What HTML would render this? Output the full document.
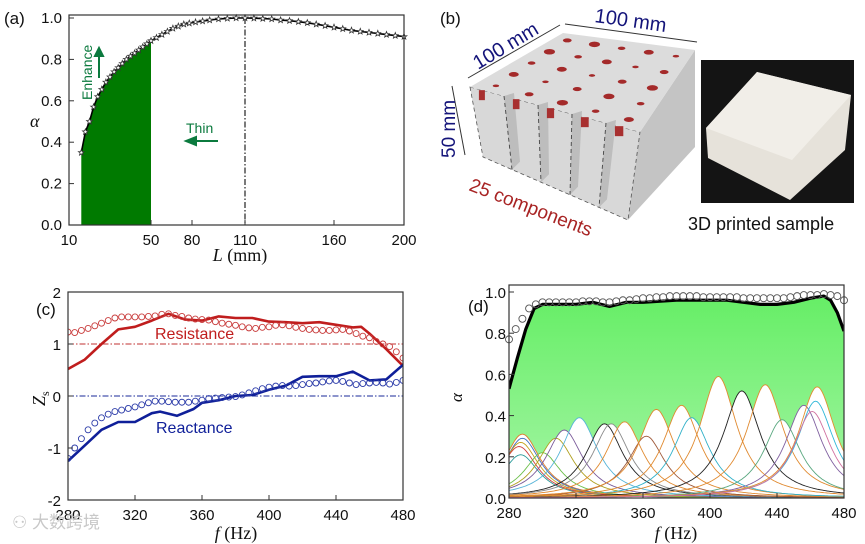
<!DOCTYPE html>
<html><head><meta charset="utf-8"><style>
html,body{margin:0;padding:0;background:#fff;}
svg{display:block;}
text{font-family:"Liberation Sans","Noto Sans CJK SC",sans-serif;}
.ser{font-family:"Liberation Serif",serif;}
</style></head><body>
<svg id="fig" width="865" height="544" viewBox="0 0 865 544" xmlns="http://www.w3.org/2000/svg">
<defs>
<linearGradient id="gG" x1="0" y1="0" x2="0" y2="1"><stop offset="0" stop-color="#66ee66"/><stop offset="1" stop-color="#a6f5a6"/></linearGradient>
<clipPath id="clipD"><rect x="509" y="285" width="335" height="214"/></clipPath>
<clipPath id="clipC"><rect x="68" y="292" width="335" height="208"/></clipPath>
</defs>
<g id="pa"></g>
<g id="pb"></g>
<g id="pc"></g>
<g id="pd"></g>
<text x="12" y="528" font-size="17" fill="#c8c8c8">⚇ 大数跨境</text>
</svg>
<script>
// ---------- Panel (a) data ----------
const aL = [16,18,20,22,24,26,28,30,32,34,36,38,40,42,44,46,48,50,54,58,62,66,70,74,78,82,86,90,95,100,105,110,115,120,125,130,135,140,145,150,155,160,165,170,175,180,185,190,195,200];
const aAlpha = [.35,.45,.50,.57,.62,.655,.69,.715,.74,.76,.78,.80,.815,.83,.845,.86,.875,.89,.905,.92,.935,.95,.96,.97,.975,.98,.985,.99,.995,.998,1.0,1.0,.999,.997,.995,.99,.987,.982,.977,.97,.963,.955,.948,.94,.935,.93,.925,.92,.915,.91];
const aXTicks = [10,50,80,110,160,200];
const aYTicks = [0,0.2,0.4,0.6,0.8,1.0];
const aFillRange = [16,50];
const aMarkLine = 110;
// ---------- Panel (c) data ----------
const cResF = [280,290,300,310,320,330,340,350,360,370,380,390,400,410,420,430,440,450,455,460,470,480];
const cResZ = [.52,.7,1.0,1.28,1.33,1.45,1.58,1.47,1.45,1.53,1.5,1.5,1.43,1.42,1.4,1.42,1.37,1.32,1.33,1.2,.9,.58];
const cReaF = [280,290,300,310,320,330,335,345,355,360,370,380,390,400,410,420,430,440,450,460,470,480];
const cReaZ = [-1.25,-.95,-.65,-.5,-.5,-.33,-.3,-.38,-.25,-.13,-.08,0,.02,.12,.2,.37,.38,.38,.47,.3,.32,.6];
const cCircF = [280,284,288,292,296,300,304,308,312,316,320,324,328,332,336,340,344,348,352,356,360,364,368,372,376,380,384,388,392,396,400,404,408,412,416,420,424,428,432,436,440,444,448,452,456,460,464,468,472,476,480];
const cResCirc = [1.23,1.22,1.26,1.3,1.35,1.4,1.45,1.5,1.52,1.52,1.52,1.52,1.53,1.54,1.57,1.58,1.55,1.53,1.5,1.48,1.47,1.46,1.43,1.4,1.38,1.36,1.33,1.31,1.3,1.32,1.33,1.36,1.37,1.35,1.32,1.3,1.28,1.27,1.26,1.26,1.27,1.28,1.25,1.2,1.15,1.12,1.05,1.0,.95,.85,.73];
const cReaCirc = [-1.2,-1.0,-.82,-.65,-.52,-.42,-.35,-.3,-.27,-.24,-.21,-.17,-.13,-.1,-.1,-.11,-.12,-.12,-.12,-.1,-.08,-.05,-.04,-.03,-.02,-.01,.02,.06,.1,.14,.17,.19,.2,.19,.2,.22,.24,.25,.27,.29,.3,.28,.25,.22,.24,.25,.26,.25,.23,.26,.3];
const cXTicks = [280,320,360,400,440,480];
const cYTicks = [-2,-1,0,1,2];
// ---------- Panel (d) data ----------
const dLineF = [280,285,290,295,300,310,320,330,340,350,360,380,400,410,420,430,440,450,460,468,472,476,480];
const dLineA = [.53,.68,.82,.92,.94,.94,.94,.95,.93,.95,.95,.96,.96,.96,.95,.94,.94,.95,.97,.98,.96,.9,.81];
const dCircF = [280,284,288,292,296,300,304,308,312,316,320,324,328,332,336,340,344,348,352,356,360,364,368,372,376,380,384,388,392,396,400,404,408,412,416,420,424,428,432,436,440,444,448,452,456,460,464,468,472,476,480];
const dCircA = [.77,.82,.87,.92,.94,.95,.95,.95,.95,.95,.95,.955,.955,.955,.95,.95,.955,.96,.96,.965,.97,.97,.975,.975,.98,.98,.98,.98,.98,.975,.975,.975,.975,.975,.975,.97,.97,.97,.97,.97,.97,.97,.975,.98,.985,.985,.985,.99,.985,.98,.96];
const dPeakF = [288,288,287,287,286,300,308,313,322,337,341,349,362,368,383,389,405,419,433,443,456,463,464,461];
const dPeakA = [.31,.29,.27,.21,.25,.22,.29,.33,.39,.36,.36,.37,.30,.43,.45,.39,.59,.52,.55,.38,.45,.47,.54,.42];
const dPeakColors = ['#e07b2a','#3f6fc0','#c4a21c','#2a9a9a','#d04040','#6cbf4a','#b0a020','#7a5a9a','#56b4d8','#222222','#8a8a8a','#e08a30','#a05a3a','#e08a30','#e08a30','#30b0c8','#e08a30','#222222','#e08a30','#5aa880','#8060a0','#30b8d8','#e09030','#d070a0'];
const dXTicks = [280,320,360,400,440,480];
const dYTicks = [0,0.2,0.4,0.6,0.8,1.0];

const NS='http://www.w3.org/2000/svg';
function mk(parent, tag, attrs, txt){const e=document.createElementNS(NS,tag);for(const k in attrs)e.setAttribute(k,attrs[k]);if(txt!==undefined)e.textContent=txt;parent.appendChild(e);return e;}
function lin(d0,d1,r0,r1){return v=>r0+(v-d0)*(r1-r0)/(d1-d0);}
function piece(dom,rng){return v=>{for(let i=0;i<dom.length-1;i++){if(v<=dom[i+1]||i===dom.length-2){return rng[i]+(v-dom[i])*(rng[i+1]-rng[i])/(dom[i+1]-dom[i]);}}};}
function pathOf(xs,ys,sx,sy){return xs.map((x,i)=>(i?'L':'M')+sx(x).toFixed(1)+','+sy(ys[i]).toFixed(1)).join(' ');}

// ================= Panel A =================
(function(){
const g=document.getElementById('pa');
const sx=piece(aXTicks,[69,151,192,245,334,404]);
const sy=lin(0,1,225,18);
let fx=[],fy=[];
aL.forEach((l,i)=>{if(l>=aFillRange[0]&&l<=aFillRange[1]){fx.push(l);fy.push(aAlpha[i]);}});
let d=pathOf(fx,fy,sx,sy)+` L${sx(aFillRange[1])},${sy(0)} L${sx(aFillRange[0])},${sy(0)} Z`;
const fill=mk(g,'path',{d:d,fill:'#007a00'});


const vl=mk(g,'line',{x1:sx(aMarkLine),x2:sx(aMarkLine),y1:sy(1),y2:sy(0),stroke:'#222','stroke-width':1.2,'stroke-dasharray':'6,2,1.5,2'});


const ln=mk(g,'path',{d:pathOf(aL,aAlpha,sx,sy),fill:'none',stroke:'#000','stroke-width':1.6});


aL.forEach((l,i)=>{
  const cx=sx(l),cy=sy(aAlpha[i]);let p='';
  for(let k=0;k<10;k++){const r=k%2?1.3:3.1;const an=-Math.PI/2+k*Math.PI/5;p+=(k?'L':'M')+(cx+r*Math.cos(an)).toFixed(1)+','+(cy+r*Math.sin(an)).toFixed(1);}
  const s=mk(g,'path',{d:p+'Z',fill:'#fff',stroke:'#333','stroke-width':0.8});
  
  
});
mk(g,'rect',{x:69,y:15,width:335,height:210,fill:'none',stroke:'#333','stroke-width':1.2,});
aXTicks.forEach(t=>{
  const tk=mk(g,'line',{x1:sx(t),x2:sx(t),y1:225,y2:220,stroke:'#333'});
  
  const lb=mk(g,'text',{x:sx(t),y:245,'font-size':15,'text-anchor':'middle',fill:'#111'},String(t));
  
});
aYTicks.forEach(t=>{
  const tk=mk(g,'line',{x1:69,x2:74,y1:sy(t),y2:sy(t),stroke:'#333'});
  
  const lb=mk(g,'text',{x:62,y:sy(t)+5,'font-size':15,'text-anchor':'end',fill:'#111'},t.toFixed(1));
  
});
mk(g,'text',{x:4,y:24,'font-size':17,fill:'#111',},'(a)');
mk(g,'text',{x:30,y:127,'font-size':18,'font-style':'italic',class:'ser',fill:'#111',},'α');
const xt=mk(g,'text',{x:240,y:261,'font-size':18,class:'ser','text-anchor':'middle',fill:'#111',});
xt.innerHTML='<tspan font-style="italic">L</tspan> (mm)';
mk(g,'text',{x:0,y:0,'font-size':14,fill:'#0b7a3e',transform:'translate(92,100) rotate(-90)',},'Enhance');
mk(g,'path',{d:'M99,78 L99,52 M95,56 L99,48 L103,56 Z',stroke:'#0b7a3e','stroke-width':2,fill:'#0b7a3e',});
mk(g,'text',{x:186,y:133,'font-size':14,fill:'#0b7a3e',},'Thin');
mk(g,'path',{d:'M218,141 L192,141 M196,137 L186,141 L196,145 Z',stroke:'#0b7a3e','stroke-width':2,fill:'#0b7a3e',});
})();

// ================= Panel B =================
(function(){
const g=document.getElementById('pb');
mk(g,'text',{x:440,y:24,'font-size':17,fill:'#111',},'(b)');
mk(g,'polygon',{points:'640,132 695,50 695,147 628,220',fill:'#c4c4c4',});
mk(g,'polygon',{points:'470,87 640,132 628,220 483,157',fill:'#d8d8d8',stroke:'#555','stroke-dasharray':'4,3','stroke-width':0.8,});
mk(g,'polygon',{points:'563,33 695,50 640,132 470,87',fill:'#dcdcdc',});
for(let i=1;i<5;i++){
  const t=i/5;const tx=470+(640-470)*t,ty=87+(132-87)*t,bx=483+(628-483)*t,by=157+(220-157)*t;
  const pp=mk(g,'polygon',{points:`${tx},${ty} ${tx+10},${ty-3} ${bx+8},${by-8} ${bx},${by}`,fill:'#bdbdbd'});
  
  const dl=mk(g,'line',{x1:tx,y1:ty,x2:bx,y2:by,stroke:'#444','stroke-dasharray':'4,3','stroke-width':0.9});
  
}
const A=[563,33],B=[695,50],C=[640,132],D=[470,87];
for(let i=0;i<5;i++)for(let j=0;j<5;j++){
  const u=(i+0.5)/5,v=(j+0.5)/5;
  const x=(1-u)*(1-v)*D[0]+u*(1-v)*C[0]+u*v*B[0]+(1-u)*v*A[0];
  const y=(1-u)*(1-v)*D[1]+u*(1-v)*C[1]+u*v*B[1]+(1-u)*v*A[1];
  const r=2.2+((i*7+j*3)%5)*0.6;
  const h=mk(g,'ellipse',{cx:x,cy:y,rx:r+1,ry:r*0.6,fill:'#a42a2a'});
  
}
for(let i=0;i<5;i++){const t=(i+0.35)/5;const x=470+(640-470)*t,y=87+(132-87)*t;
  const n=mk(g,'rect',{x:x-3,y:y,width:6+i*0.6,height:10,fill:'#a83030'});
  }
mk(g,'path',{d:'M468,78 L560,25 M565,24 L697,42 M452,86 L465,155',stroke:'#333','stroke-width':1,fill:'none',});
mk(g,'text',{x:0,y:0,'font-size':20,fill:'#14147a',transform:'translate(478,70) rotate(-31)',},'100 mm');
mk(g,'text',{x:0,y:0,'font-size':20,fill:'#14147a',transform:'translate(594,22) rotate(8)',},'100 mm');
mk(g,'text',{x:0,y:0,'font-size':19,fill:'#14147a',transform:'translate(455,158) rotate(-90)',},'50 mm');
mk(g,'text',{x:0,y:0,'font-size':19,fill:'#a82424',transform:'translate(468,190) rotate(21)',},'25 components');
mk(g,'rect',{x:701,y:60,width:153,height:143,fill:'#141414',});
mk(g,'polygon',{points:'706,128 757,72 851,95 845,150 790,200 708,158',fill:'#e6e2da',});
mk(g,'polygon',{points:'706,128 757,72 851,95 792,160',fill:'#f1eee8',});
mk(g,'text',{x:688,y:230,'font-size':18,fill:'#111',},'3D printed sample');
})();

// ================= Panel C =================
(function(){
const g=document.getElementById('pc');
const sx=lin(280,480,68,403), sy=lin(-2,2,500,292);
const cl=mk(g,'g',{'clip-path':'url(#clipC)'});
mk(cl,'line',{x1:68,x2:403,y1:sy(1),y2:sy(1),stroke:'#c03030','stroke-width':0.9,'stroke-dasharray':'6,2,1.5,2',});
mk(cl,'line',{x1:68,x2:403,y1:sy(0),y2:sy(0),stroke:'#1a2a99','stroke-width':0.9,'stroke-dasharray':'6,2,1.5,2',});
const r=mk(cl,'path',{d:pathOf(cResF,cResZ,sx,sy),fill:'none',stroke:'#c01d1d','stroke-width':2.6,'stroke-linejoin':'round'});

const x=mk(cl,'path',{d:pathOf(cReaF,cReaZ,sx,sy),fill:'none',stroke:'#0f1f99','stroke-width':2.6,'stroke-linejoin':'round'});

cCircF.forEach((f,i)=>{
  const a=mk(cl,'circle',{cx:sx(f),cy:sy(cResCirc[i]),r:3,fill:'none',stroke:'#c83a3a','stroke-width':0.9});
  
  const b=mk(cl,'circle',{cx:sx(f),cy:sy(cReaCirc[i]),r:3,fill:'none',stroke:'#2a3aa8','stroke-width':0.9});
  
});
mk(g,'rect',{x:68,y:292,width:335,height:208,fill:'none',stroke:'#333','stroke-width':1.2,});
cXTicks.forEach(t=>{
  const tk=mk(g,'line',{x1:sx(t),x2:sx(t),y1:500,y2:495,stroke:'#333'});
  
  const lb=mk(g,'text',{x:sx(t),y:520,'font-size':15,'text-anchor':'middle',fill:'#111'},String(t));
  
});
cYTicks.forEach(t=>{
  const tk=mk(g,'line',{x1:68,x2:73,y1:sy(t),y2:sy(t),stroke:'#333'});
  
  const lb=mk(g,'text',{x:61,y:sy(t)+6,'font-size':15,'text-anchor':'end',fill:'#111'},String(t));
  
});
mk(g,'text',{x:36,y:315,'font-size':17,fill:'#111',},'(c)');
mk(g,'text',{x:155,y:339,'font-size':16,fill:'#c01d1d',},'Resistance');
mk(g,'text',{x:156,y:433,'font-size':16,fill:'#0f1f99',},'Reactance');
const yl=mk(g,'text',{x:0,y:0,'font-size':18,class:'ser',fill:'#111',transform:'translate(45,406) rotate(-90)',});
yl.innerHTML='<tspan font-style="italic">Z</tspan><tspan font-size="12" dy="4">s</tspan>';
const xl=mk(g,'text',{x:236,y:539,'font-size':18,class:'ser','text-anchor':'middle',fill:'#111',});
xl.innerHTML='<tspan font-style="italic">f</tspan> (Hz)';
})();

// ================= Panel D =================
(function(){
const g=document.getElementById('pd');
const sx=lin(280,480,509,844), sy=lin(0,1,498,292);
const W=13.5;
function comp(k,f){const z=(f-dPeakF[k])/W;return dPeakA[k]/(1+z*z);}
const cl=mk(g,'g',{'clip-path':'url(#clipD)'});
const gf=mk(cl,'path',{d:pathOf(dLineF,dLineA,sx,sy)+` L${sx(480)},${sy(0)} L${sx(280)},${sy(0)} Z`,fill:'url(#gG)'});

let env='';
for(let f=280;f<=480;f+=1){let m=0;for(let k=0;k<dPeakF.length;k++)m=Math.max(m,comp(k,f));env+=(f===280?'M':'L')+sx(f).toFixed(1)+','+sy(m).toFixed(1);}
env+=` L${sx(480)},${sy(0)+2} L${sx(280)},${sy(0)+2} Z`;
const ew=mk(cl,'path',{d:env,fill:'#fff'});

for(let k=0;k<dPeakF.length;k++){
  let p='';for(let f=280;f<=480;f+=1)p+=(f===280?'M':'L')+sx(f).toFixed(1)+','+sy(comp(k,f)).toFixed(1);
  const c=mk(cl,'path',{d:p,fill:'none',stroke:dPeakColors[k],'stroke-width':0.9});
  
}
const bl=mk(cl,'path',{d:pathOf(dLineF,dLineA,sx,sy),fill:'none',stroke:'#000','stroke-width':3.2,'stroke-linejoin':'round'});

dCircF.forEach((f,i)=>{
  const c=mk(g,'circle',{cx:sx(f),cy:sy(dCircA[i]),r:3.5,fill:'none',stroke:'#555','stroke-width':0.9});
  
});
mk(g,'rect',{x:509,y:285,width:335,height:213,fill:'none',stroke:'#333','stroke-width':1.2,});
dXTicks.forEach(t=>{
  const tk=mk(g,'line',{x1:sx(t),x2:sx(t),y1:498,y2:493,stroke:'#333'});
  
  const lb=mk(g,'text',{x:sx(t),y:518,'font-size':15,'text-anchor':'middle',fill:'#111'},String(t));
  
});
dYTicks.forEach(t=>{
  const tk=mk(g,'line',{x1:509,x2:514,y1:sy(t),y2:sy(t),stroke:'#333'});
  
  const lb=mk(g,'text',{x:506,y:sy(t)+6,'font-size':15,'text-anchor':'end',fill:'#111'},t.toFixed(1));
  
});
mk(g,'text',{x:468,y:312,'font-size':17,fill:'#111',},'(d)');
mk(g,'text',{x:0,y:0,'font-size':17,'font-style':'italic',class:'ser',fill:'#111',transform:'translate(462,402) rotate(-90)',},'α');
const xl=mk(g,'text',{x:676,y:539,'font-size':18,class:'ser','text-anchor':'middle',fill:'#111',});
xl.innerHTML='<tspan font-style="italic">f</tspan> (Hz)';
})();
</script>
</body></html>
